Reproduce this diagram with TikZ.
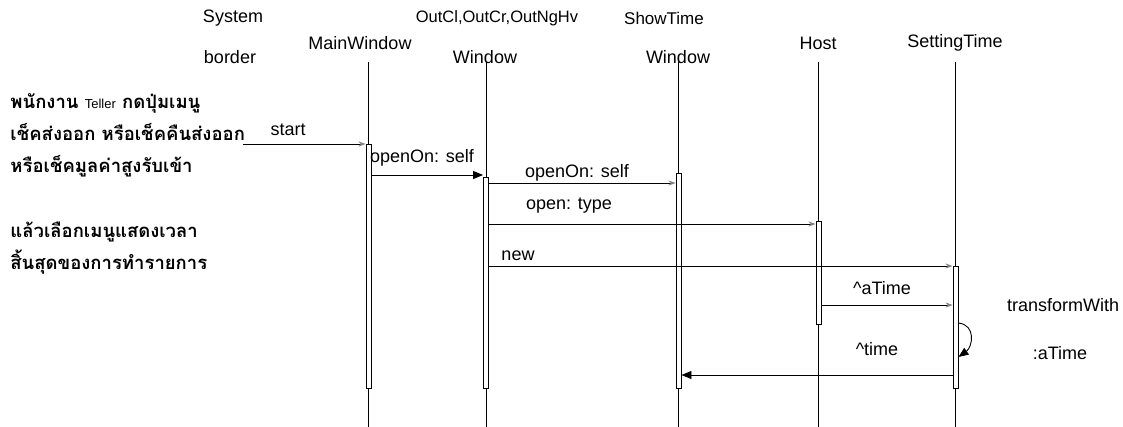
\documentclass[tikz,border=0pt]{standalone}
\usepackage{fontspec}
\setmainfont{Liberation Sans}
\newfontfamily\thaifont[Script=Thai]{Loma}
\newfontfamily\latinfont{Liberation Sans}
\usetikzlibrary{positioning,arrows.meta}

\begin{document}
\begin{tikzpicture}[
    x=1pt,y=-1pt,
    line width=0.9pt,
    head/.style={font=\fontsize{18}{22}\selectfont,inner sep=0pt},
    lbl/.style={font=\fontsize{18}{22}\selectfont,inner sep=0pt},
    bar/.style={rectangle,draw,fill=white,minimum width=5pt,inner sep=0pt},
    life/.style={line width=0.7pt},
    msg/.style={-{Stealth[length=7pt,width=5pt,gray]}},
    call/.style={-{Triangle[length=10pt,width=8pt]}},
    note/.style={font=\thaifont\bfseries\fontsize{18.5}{32}\selectfont,align=left,inner sep=0pt,anchor=west}
]
\useasboundingbox (0,0) rectangle (1123,427);

% Heads
\node[head] (sysh1) at (233,18) {System};
\node[head] (sysh2) at (230,57) {border};
\node[head] (mainh) at (360,43) {MainWindow};
\node[head,font=\fontsize{16.5}{20}\selectfont] (outh1) at (497,18) {OutCl,OutCr,OutNgHv};
\node[head] (outh2) at (485,57) {Window};
\node[head,font=\fontsize{17}{20}\selectfont] (showh1) at (664,18) {ShowTime};
\node[head] (showh2) at (678,57) {Window};
\node[head] (hosth) at (818,43) {Host};
\node[head] (seth) at (955,43) {SettingTime};

% Lifelines
\foreach \n/\x in {main/368.5,out/486,show/678.5,host/818.5,set/955.5}{
  \coordinate (\n top) at (\x,62);
  \coordinate (\n bot) at (\x,427);
  \draw[life] (\n top) -- (\n bot);
}

% Activations
\node[bar,minimum height=244pt] (mainact) at (368.5,266) {};
\node[bar,minimum height=211pt] (outact) at (486,282.5) {};
\node[bar,minimum height=215pt] (showact) at (678.5,280.5) {};
\node[bar,minimum height=103pt] (hostact) at (818.5,272.5) {};
\node[bar,minimum height=122pt] (setact) at (955.5,327) {};

% Actor notes
\node[note] (note1) at (10,135) {พนักงาน {\latinfont\mdseries\fontsize{13}{14}\selectfont Teller} กดปุ่มเมนู\\เช็คส่งออก หรือเช็คคืนส่งออก\\หรือเช็คมูลค่าสูงรับเข้า};
\node[note] (note2) at (10,248) {แล้วเลือกเมนูแสดงเวลา\\สิ้นสุดของการทำรายการ};

% Rows
\coordinate (actor) at (243,144);
\coordinate (r2) at (0,175);
\coordinate (r3) at (0,183);
\coordinate (r4) at (0,224);
\coordinate (r5) at (0,266);
\coordinate (r6) at (0,305);
\coordinate (r7a) at (0,323);
\coordinate (r7b) at (0,357);
\coordinate (r8) at (0,375);

% Messages
\draw[msg] (actor) -- (mainact.west |- actor);
\draw[call] (mainact.east |- r2) -- (outact.west |- r2);
\draw[msg] (outact.east |- r3) -- (showact.west |- r3);
\draw[msg] (outact.east |- r4) -- (hostact.west |- r4);
\draw[msg] (outact.east |- r5) -- (setact.west |- r5);
\draw[msg] (hostact.east |- r6) -- (setact.west |- r6);
\draw[call] (setact.east |- r7a) .. controls +(18,2) and +(14,-10) .. (setact.east |- r7b);
\draw[call] (setact.west |- r8) -- (showact.east |- r8);

% Labels
\node[lbl] (startl) at (288,130) {start};
\node[lbl] (open1l) at (422,158) {openOn: self};
\node[lbl] (open2l) at (577,173) {openOn: self};
\node[lbl] (typel) at (569,206) {open: type};
\node[lbl] (newl) at (518,256) {new};
\node[lbl] (atimel) at (882,288) {\textasciicircum aTime};
\node[lbl] (timel) at (877,349) {\textasciicircum time};
\node[lbl] (transl) at (1063,305) {transformWith};
\node[lbl] (argl) at (1060,353) {:aTime};
\end{tikzpicture}
\end{document}
